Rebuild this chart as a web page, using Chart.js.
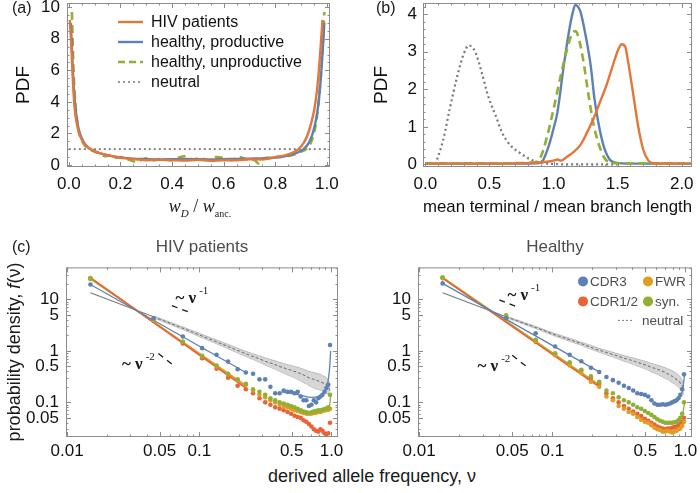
<!DOCTYPE html>
<html>
<head>
<meta charset="utf-8">
<script src="https://cdn.jsdelivr.net/npm/chart.js@4.4.1/dist/chart.umd.min.js"></script>
<style>
  body { margin: 0; background: #fff; width: 700px; height: 493px; position: relative; overflow: hidden;
         font-family: "Liberation Sans", Arial, sans-serif; }
  canvas { position: absolute; }
  .txt { position: absolute; white-space: nowrap; color: #1a1a1a; line-height: 1; }
  .serif { font-family: "Liberation Serif", "Times New Roman", serif; }
</style>
</head>
<body>
<canvas id="chartA" width="340" height="222" style="left:0;top:0"></canvas>
<canvas id="chartB" width="350" height="222" style="left:350px;top:0"></canvas>
<canvas id="chartHiv" width="350" height="235" style="left:0;top:225px"></canvas>
<canvas id="chartHealthy" width="350" height="235" style="left:350px;top:225px"></canvas>

<div class="txt" style="left:12px;top:0px;font-size:16px">(a)</div>
<div class="txt" style="left:376px;top:0px;font-size:16px">(b)</div>
<div class="txt" style="left:12px;top:239px;font-size:16px">(c)</div>
<div class="txt serif" style="left:200px;top:208px;font-size:18px;transform:translate(-50%,-50%)"><i>w</i><sub style="font-size:11px"><i>D</i></sub> / <i>w</i><sub style="font-size:10px">anc.</sub></div>
<div class="txt" style="left:14px;top:352px;font-size:18px;transform:translate(-50%,-50%) rotate(-90deg)">probability density, <i>f</i>(ν)</div>
<div class="txt" style="left:372px;top:476px;font-size:18px;transform:translate(-50%,-50%)">derived allele frequency, ν</div>

<script>
// ---------- panel (a): w_D / w_anc. ----------
const aLegend = ['HIV patients', 'healthy, productive', 'healthy, unproductive', 'neutral'];
const aTicksX = [0, 0.2, 0.4, 0.6, 0.8, 1.0];
const aTicksY = [0, 2, 4, 6, 8, 10];

const aHivX = [0.004, 0.01, 0.016, 0.022, 0.03, 0.04, 0.052, 0.065, 0.08, 0.1, 0.12, 0.15, 0.18, 0.22, 0.26, 0.3, 0.35, 0.4, 0.45, 0.5, 0.55, 0.6, 0.65, 0.7, 0.75, 0.8, 0.84, 0.87, 0.89, 0.91, 0.925, 0.94, 0.952, 0.962, 0.97, 0.977, 0.983];
const aHivY = [9.2, 7.4, 5.3, 3.7, 2.7, 2.0, 1.55, 1.25, 1.05, 0.88, 0.75, 0.62, 0.52, 0.42, 0.36, 0.3, 0.32, 0.3, 0.28, 0.32, 0.27, 0.3, 0.3, 0.36, 0.35, 0.5, 0.62, 0.8, 1.0, 1.4, 1.9, 2.7, 3.6, 4.8, 6.2, 7.8, 9.2];

const aProdX = [0.008, 0.013, 0.019, 0.026, 0.034, 0.045, 0.058, 0.072, 0.09, 0.11, 0.13, 0.16, 0.2, 0.25, 0.3, 0.35, 0.4, 0.45, 0.5, 0.55, 0.6, 0.65, 0.7, 0.75, 0.8, 0.85, 0.88, 0.91, 0.93, 0.945, 0.958, 0.968, 0.977, 0.984, 0.99];
const aProdY = [9.0, 7.0, 5.0, 3.6, 2.6, 1.9, 1.45, 1.15, 0.95, 0.8, 0.7, 0.58, 0.48, 0.4, 0.37, 0.35, 0.36, 0.38, 0.36, 0.35, 0.37, 0.38, 0.4, 0.42, 0.47, 0.6, 0.75, 1.0, 1.4, 2.0, 2.9, 4.0, 5.6, 7.3, 9.0];

const aUnprodX = [0.012, 0.016, 0.02, 0.026, 0.033, 0.042, 0.055, 0.07, 0.085, 0.1, 0.12, 0.14, 0.16, 0.18, 0.2, 0.23, 0.26, 0.28, 0.3, 0.33, 0.36, 0.39, 0.42, 0.45, 0.48, 0.51, 0.54, 0.57, 0.6, 0.63, 0.66, 0.69, 0.72, 0.735, 0.75, 0.78, 0.81, 0.84, 0.87, 0.9, 0.92, 0.94, 0.955, 0.967, 0.977, 0.985, 0.99];
const aUnprodY = [9.7, 7.2, 5.3, 3.8, 2.7, 1.9, 1.4, 1.1, 0.95, 0.85, 0.7, 0.55, 0.62, 0.45, 0.5, 0.35, 0.2, 0.3, 0.42, 0.3, 0.38, 0.3, 0.45, 0.55, 0.35, 0.42, 0.3, 0.5, 0.45, 0.3, 0.5, 0.35, 0.3, 0.1, 0.4, 0.45, 0.5, 0.55, 0.65, 0.85, 1.0, 1.5, 2.4, 3.8, 5.8, 8.0, 9.7];

const aNeutralX = [0, 1];
const aNeutralY = [1, 1];

// ---------- panel (b): mean terminal / mean branch length ----------
const bTicksX = [0, 0.5, 1, 1.5, 2];
const bTicksY = [0, 1, 2, 3, 4];

const bHivX = [0, 0.6, 0.84, 0.95, 1.0, 1.03, 1.06, 1.1, 1.16, 1.21, 1.26, 1.31, 1.36, 1.42, 1.47, 1.51, 1.53, 1.56, 1.58, 1.62, 1.66, 1.7, 1.74, 1.78, 2.08];
const bHivY = [0.02, 0.02, 0.04, 0.07, 0.1, 0.13, 0.1, 0.19, 0.34, 0.52, 0.84, 1.2, 1.64, 2.18, 2.72, 3.1, 3.2, 3.13, 2.77, 1.91, 1.02, 0.39, 0.1, 0.03, 0.02];

const bProdX = [0, 0.6, 0.87, 0.92, 0.97, 1.0, 1.03, 1.08, 1.12, 1.15, 1.17, 1.19, 1.21, 1.25, 1.29, 1.32, 1.36, 1.4, 1.44, 1.49, 1.6, 2.08];
const bProdY = [0.02, 0.02, 0.03, 0.12, 0.57, 0.95, 1.38, 2.63, 3.53, 4.05, 4.25, 4.2, 4.07, 3.44, 2.63, 1.73, 0.93, 0.39, 0.12, 0.04, 0.02, 0.02];

const bUnprodX = [0, 0.6, 0.83, 0.9, 0.95, 1.0, 1.05, 1.1, 1.14, 1.17, 1.19, 1.23, 1.27, 1.31, 1.35, 1.39, 1.44, 1.55, 2.08];
const bUnprodY = [0.03, 0.03, 0.05, 0.2, 0.75, 1.47, 2.27, 2.99, 3.45, 3.55, 3.44, 2.81, 1.91, 1.1, 0.57, 0.21, 0.05, 0.03, 0.03];

const bNeutralX = [0.08, 0.14, 0.19, 0.25, 0.3, 0.34, 0.39, 0.44, 0.49, 0.55, 0.6, 0.66, 0.74, 0.82, 0.9, 1.0, 1.1, 1.5];
const bNeutralY = [0, 0.66, 1.47, 2.36, 2.95, 3.17, 2.99, 2.45, 1.82, 1.29, 0.84, 0.52, 0.3, 0.13, 0.05, 0.01, 0, 0];

// ---------- panel (c): site frequency spectra ----------
const cLegend = ['CDR3', 'FWR', 'CDR1/2', 'syn.', 'neutral'];
const cTicksX = [0.01, 0.05, 0.1, 0.5, 1];
const cTickLabelsX = ['0.01', '0.05', '0.1', '0.5', '1.0'];
const cTicksY = [0.05, 0.1, 0.5, 1, 5, 10];
const cTickLabelsY = ['0.05', '0.1', '0.5', '1', '5', '10'];

const freqBins = [0.015, 0.045, 0.075, 0.105, 0.135, 0.165, 0.195, 0.225, 0.255, 0.285, 0.315, 0.345, 0.375, 0.405, 0.435, 0.465, 0.495, 0.525, 0.555, 0.585, 0.615, 0.645, 0.675, 0.705, 0.735, 0.765, 0.795, 0.825, 0.855, 0.885, 0.915, 0.945, 0.975];
const fitRange = [0.015, 0.225];

// HIV patients
const hivCdr3 = [19.5, 4.3, 1.9, 1.13, 0.84, 0.62, 0.44, 0.38, 0.36, 0.28, 0.28, 0.2, 0.15, 0.15, 0.17, 0.16, 0.16, 0.15, 0.16, 0.13, 0.11, 0.11, 0.085, 0.09, 0.11, 0.1, 0.12, 0.13, 0.14, 0.16, 0.19, 0.22, 1.3];
const hivFwr = [26, 4.0, 1.5, 0.78, 0.5, 0.35, 0.27, 0.22, 0.17, 0.14, 0.125, 0.11, 0.1, 0.09, 0.085, 0.08, 0.075, 0.07, 0.068, 0.065, 0.062, 0.06, 0.06, 0.06, 0.062, 0.063, 0.065, 0.065, 0.068, 0.07, 0.07, 0.072, 0.075];
const hivCdr12 = [26, 3.9, 1.4, 0.72, 0.45, 0.3, 0.21, 0.18, 0.15, 0.12, 0.1, 0.09, 0.08, 0.075, 0.07, 0.065, 0.06, 0.055, 0.052, 0.05, 0.045, 0.042, 0.038, 0.034, 0.03, 0.028, 0.027, 0.03, 0.028, 0.025, 0.024, 0.025, 0.04];
const hivSyn = [25, 4.1, 1.5, 0.8, 0.52, 0.36, 0.28, 0.23, 0.18, 0.16, 0.14, 0.12, 0.11, 0.1, 0.095, 0.09, 0.085, 0.08, 0.075, 0.07, 0.066, 0.064, 0.062, 0.064, 0.066, 0.068, 0.07, 0.07, 0.072, 0.074, 0.076, 0.08, 0.14];
const hivNeutral = [13.5, 4.6, 2.75, 1.95, 1.5, 1.22, 1.02, 0.88, 0.78, 0.7, 0.63, 0.58, 0.54, 0.5, 0.47, 0.44, 0.42, 0.4, 0.38, 0.36, 0.34, 0.32, 0.3, 0.29, 0.28, 0.27, 0.26, 0.25, 0.24, 0.23, 0.22, 0.2, 0.17];
const hivNeutralHi = [13.5, 4.8, 2.92, 2.1, 1.63, 1.34, 1.13, 0.98, 0.88, 0.8, 0.73, 0.68, 0.64, 0.6, 0.57, 0.54, 0.52, 0.5, 0.48, 0.46, 0.44, 0.42, 0.4, 0.39, 0.38, 0.37, 0.36, 0.35, 0.33, 0.32, 0.3, 0.27, 0.22];
const hivNeutralLo = [13.5, 4.4, 2.6, 1.8, 1.38, 1.1, 0.91, 0.78, 0.68, 0.6, 0.53, 0.48, 0.44, 0.4, 0.37, 0.34, 0.32, 0.3, 0.28, 0.26, 0.24, 0.23, 0.21, 0.2, 0.19, 0.18, 0.18, 0.17, 0.17, 0.16, 0.15, 0.14, 0.13];
const hivFitCdr3 = [19.5, 0.38];
const hivFitFwr = [26, 0.21];
const hivFitCdr12 = [26.5, 0.19];
const hivFitSyn = [25, 0.21];
const hivTailCdr3X = [0.42, 0.5, 0.6, 0.7, 0.8, 0.87, 0.92, 0.95, 0.97, 0.985];
const hivTailCdr3Y = [0.16, 0.15, 0.135, 0.125, 0.13, 0.155, 0.2, 0.3, 0.5, 1.0];
const hivTailSynX = [0.6, 0.7, 0.8, 0.9, 0.95, 0.975, 0.985];
const hivTailSynY = [0.062, 0.063, 0.067, 0.072, 0.078, 0.1, 0.14];
const hivTailFwrX = [0.6, 0.7, 0.8, 0.9, 0.95, 0.985];
const hivTailFwrY = [0.06, 0.06, 0.064, 0.068, 0.072, 0.076];

// healthy donors
const hlCdr3 = [20.5, 4.3, 2.2, 1.22, 0.84, 0.63, 0.47, 0.39, 0.31, 0.27, 0.24, 0.21, 0.19, 0.17, 0.15, 0.145, 0.14, 0.13, 0.11, 0.095, 0.09, 0.09, 0.092, 0.09, 0.092, 0.095, 0.1, 0.105, 0.11, 0.12, 0.14, 0.18, 0.35];
const hlFwr = [26, 4.2, 1.55, 0.82, 0.52, 0.37, 0.25, 0.2, 0.13, 0.11, 0.085, 0.075, 0.065, 0.06, 0.052, 0.046, 0.042, 0.04, 0.036, 0.032, 0.03, 0.029, 0.027, 0.027, 0.028, 0.027, 0.026, 0.027, 0.028, 0.03, 0.031, 0.035, 0.042];
const hlCdr12 = [26, 4.2, 1.5, 0.85, 0.58, 0.42, 0.3, 0.23, 0.15, 0.12, 0.1, 0.085, 0.075, 0.066, 0.06, 0.054, 0.048, 0.044, 0.04, 0.037, 0.034, 0.032, 0.031, 0.03, 0.031, 0.031, 0.032, 0.033, 0.034, 0.036, 0.038, 0.042, 0.05];
const hlSyn = [27, 4.9, 1.65, 0.9, 0.6, 0.43, 0.32, 0.25, 0.17, 0.15, 0.125, 0.11, 0.1, 0.09, 0.08, 0.075, 0.068, 0.062, 0.057, 0.052, 0.047, 0.044, 0.042, 0.04, 0.04, 0.04, 0.04, 0.041, 0.042, 0.045, 0.05, 0.06, 0.1];
const hlNeutral = [13.5, 4.6, 2.85, 2.05, 1.65, 1.38, 1.18, 1.03, 0.93, 0.85, 0.78, 0.72, 0.68, 0.64, 0.6, 0.57, 0.54, 0.51, 0.48, 0.46, 0.44, 0.42, 0.4, 0.38, 0.36, 0.34, 0.32, 0.3, 0.28, 0.26, 0.24, 0.21, 0.17];
const hlNeutralHi = [13.5, 4.75, 2.98, 2.17, 1.76, 1.48, 1.28, 1.12, 1.02, 0.94, 0.87, 0.81, 0.77, 0.73, 0.69, 0.66, 0.63, 0.6, 0.57, 0.55, 0.53, 0.51, 0.49, 0.47, 0.45, 0.43, 0.41, 0.39, 0.37, 0.34, 0.31, 0.27, 0.21];
const hlNeutralLo = [13.5, 4.45, 2.72, 1.93, 1.54, 1.28, 1.08, 0.94, 0.84, 0.76, 0.69, 0.63, 0.59, 0.55, 0.51, 0.48, 0.45, 0.42, 0.39, 0.37, 0.35, 0.33, 0.31, 0.29, 0.28, 0.26, 0.24, 0.23, 0.21, 0.2, 0.18, 0.16, 0.14];
const hlFitCdr3 = [20.5, 0.39];
const hlFitFwr = [26, 0.21];
const hlFitCdr12 = [26, 0.2];
const hlFitSyn = [27, 0.22];
const hlTailCdr3X = [0.6, 0.7, 0.8, 0.88, 0.93, 0.96, 0.985];
const hlTailCdr3Y = [0.09, 0.088, 0.095, 0.11, 0.14, 0.2, 0.35];
const hlTailSynX = [0.65, 0.75, 0.85, 0.92, 0.96, 0.985];
const hlTailSynY = [0.042, 0.04, 0.042, 0.05, 0.065, 0.1];
const hlTailFwrX = [0.65, 0.75, 0.85, 0.92, 0.96, 0.985];
const hlTailFwrY = [0.027, 0.027, 0.028, 0.031, 0.036, 0.042];

// slope guides (~nu^-1, ~nu^-2): x pairs and y pairs
const hivGuide1X = [0.062, 0.086], hivGuide1Y = [7.6, 5.5];
const hivGuide2X = [0.049, 0.066], hivGuide2Y = [0.89, 0.49];
const hlGuide1X = [0.04, 0.055], hlGuide1Y = [9.8, 7.1];
const hlGuide2X = [0.05, 0.065], hlGuide2Y = [0.82, 0.48];

// ---------- styling ----------
const BLUE = '#5e81b5', ORANGE = '#e19c24', RED = '#eb6235', GREEN = '#8fb032';
const HIVLINE = '#e4763a';
const FAMILY = '"Liberation Sans", Arial, sans-serif';
const TICKFONT = { family: FAMILY, size: 17 };
const TICKCOLOR = '#111';

const pts = (xs, ys) => xs.map((x, i) => ({ x: x, y: ys[i] }));

function range(a, b, step) {
  const out = [];
  for (let v = a; v <= b + 1e-9; v += step) out.push(+v.toFixed(4));
  return out;
}
function logMinors(lo, hi) {
  const out = [];
  for (let d = lo; d < hi; d *= 10) for (let k = 2; k <= 9; k++) out.push(+(d * k).toPrecision(3));
  return out;
}
// keep the plot box exactly where the layout puts it
function fixBox(size, key) {
  return s => {
    s[key] = size;
    s.paddingTop = 0; s.paddingBottom = 0; s.paddingLeft = 0; s.paddingRight = 0;
  };
}

// frame with inward ticks on all four sides
const framePlugin = {
  id: 'frame',
  afterDatasetsDraw(chart, args, o) {
    const { ctx, chartArea: a, scales: { x, y } } = chart;
    ctx.save();
    ctx.strokeStyle = '#8c8c8c';
    ctx.lineWidth = 1;
    ctx.strokeRect(a.left + 0.5, a.top + 0.5, a.right - a.left - 1, a.bottom - a.top - 1);
    ctx.beginPath();
    const xt = (vals, len) => vals.forEach(v => {
      const p = Math.round(x.getPixelForValue(v)) + 0.5;
      if (p < a.left + 1 || p > a.right - 1) return;
      ctx.moveTo(p, a.bottom); ctx.lineTo(p, a.bottom - len);
      ctx.moveTo(p, a.top); ctx.lineTo(p, a.top + len);
    });
    const yt = (vals, len) => vals.forEach(v => {
      const p = Math.round(y.getPixelForValue(v)) + 0.5;
      if (p < a.top + 1 || p > a.bottom - 1) return;
      ctx.moveTo(a.left, p); ctx.lineTo(a.left + len, p);
      ctx.moveTo(a.right, p); ctx.lineTo(a.right - len, p);
    });
    xt(o.xMajor, 5); xt(o.xMinor, 2.5);
    yt(o.yMajor, 5); yt(o.yMinor, 2.5);
    ctx.stroke();
    ctx.restore();
  }
};

// legend drawn inside the plot area
const keyPlugin = {
  id: 'key',
  afterDraw(chart, args, o) {
    if (!o.items) return;
    const { ctx, chartArea: a } = chart;
    ctx.save();
    ctx.font = o.font;
    ctx.textBaseline = 'middle';
    o.items.forEach(it => {
      const x0 = a.left + it.dx, yy = a.top + it.dy;
      ctx.strokeStyle = it.color; ctx.fillStyle = it.color;
      if (it.kind === 'marker') {
        ctx.beginPath(); ctx.arc(x0, yy, 5, 0, Math.PI * 2); ctx.fill();
      } else {
        ctx.lineWidth = it.width || 2.4;
        ctx.setLineDash(it.dash || []);
        ctx.beginPath(); ctx.moveTo(x0, yy); ctx.lineTo(x0 + it.len, yy); ctx.stroke();
        ctx.setLineDash([]);
      }
      ctx.fillStyle = o.color;
      ctx.fillText(it.text, a.left + it.tx, yy + 1);
    });
    ctx.restore();
  }
};

// "~ nu^k" annotations placed in data coordinates
const powerPlugin = {
  id: 'power',
  afterDatasetsDraw(chart, args, o) {
    if (!o.items) return;
    const { ctx, scales: { x, y } } = chart;
    ctx.save();
    ctx.fillStyle = '#1a1a1a';
    ctx.textBaseline = 'middle';
    o.items.forEach(it => {
      const px = x.getPixelForValue(it.x), py = y.getPixelForValue(it.y);
      ctx.font = 'bold 17px "Liberation Serif", serif';
      const base = '~ ν';
      ctx.fillText(base, px, py);
      const w = ctx.measureText(base).width;
      ctx.font = '11px "Liberation Serif", serif';
      ctx.fillText(it.exp, px + w + 3, py - 7);
    });
    ctx.restore();
  }
};

function linAxis(min, max, ticks, fmt, pad, extra) {
  return Object.assign({
    type: 'linear', min: min, max: max,
    afterBuildTicks: s => { s.ticks = ticks.map(v => ({ value: v })); },
    ticks: { callback: fmt, font: TICKFONT, color: TICKCOLOR, autoSkip: false, maxRotation: 0, padding: pad },
    grid: { display: false, drawTicks: false },
    border: { display: false }
  }, extra);
}
function logAxis(min, max, ticks, labels, pad, extra) {
  return Object.assign({
    type: 'logarithmic', min: min, max: max,
    afterBuildTicks: s => { s.ticks = ticks.map(v => ({ value: v })); },
    ticks: { callback: v => labels[ticks.indexOf(v)], font: TICKFONT, color: TICKCOLOR, autoSkip: false, maxRotation: 0, padding: pad },
    grid: { display: false, drawTicks: false },
    border: { display: false }
  }, extra);
}

const lineDs = (data, color, width, dash) => ({
  data: data, showLine: true, borderColor: color, borderWidth: width, borderDash: dash || [],
  pointRadius: 0, fill: false, cubicInterpolationMode: 'monotone'
});

const baseOptions = {
  responsive: false, animation: false, events: [],
  plugins: { legend: { display: false }, tooltip: { enabled: false } }
};

// ---------- chart (a) ----------
new Chart(document.getElementById('chartA'), {
  type: 'scatter',
  data: { datasets: [
    lineDs(pts(aHivX, aHivY), HIVLINE, 2.4),
    lineDs(pts(aProdX, aProdY), BLUE, 2.4),
    lineDs(pts(aUnprodX, aUnprodY), GREEN, 2.6, [8, 5]),
    lineDs(pts(aNeutralX, aNeutralY), '#777', 1.8, [2, 3])
  ] },
  options: Object.assign({}, baseOptions, {
    layout: { padding: { left: 0, top: 3, right: 10, bottom: 0 } },
    scales: {
      x: linAxis(-0.007, 1.012, aTicksX, v => v.toFixed(1), 7, { afterFit: fixBox(55, 'height') }),
      y: linAxis(-0.13, 10.27, aTicksY, v => String(v), 7, {
        afterFit: fixBox(67, 'width'),
        title: { display: true, text: 'PDF', font: { family: FAMILY, size: 19 }, color: TICKCOLOR, padding: { top: 12 } }
      })
    },
    plugins: Object.assign({}, baseOptions.plugins, {
      frame: { xMajor: aTicksX, xMinor: range(0, 1, 0.05), yMajor: aTicksY, yMinor: range(0, 10, 0.5) },
      key: {
        font: '16px ' + FAMILY, color: '#111',
        items: [
          { text: aLegend[0], color: HIVLINE, dx: 51, len: 25, tx: 84, dy: 19 },
          { text: aLegend[1], color: BLUE, dx: 51, len: 25, tx: 84, dy: 39 },
          { text: aLegend[2], color: GREEN, dash: [7, 4], dx: 51, len: 25, tx: 84, dy: 59 },
          { text: aLegend[3], color: '#777', dash: [2, 3], width: 1.6, dx: 51, len: 25, tx: 84, dy: 79 }
        ]
      }
    })
  }),
  plugins: [framePlugin, keyPlugin]
});

// ---------- chart (b) ----------
new Chart(document.getElementById('chartB'), {
  type: 'scatter',
  data: { datasets: [
    lineDs(pts(bHivX, bHivY), HIVLINE, 2.4),
    lineDs(pts(bUnprodX, bUnprodY), GREEN, 2.6, [8, 5]),
    lineDs(pts(bProdX, bProdY), BLUE, 2.4),
    lineDs(pts(bNeutralX, bNeutralY), '#777', 2.2, [2, 3])
  ] },
  options: Object.assign({}, baseOptions, {
    layout: { padding: { left: 0, top: 3, right: 8, bottom: 0 } },
    scales: {
      x: linAxis(-0.018, 2.08, bTicksX, v => v.toFixed(1), 7, {
        afterFit: fixBox(55, 'height'),
        title: { display: true, text: 'mean terminal / mean branch length', font: { family: FAMILY, size: 17 }, color: TICKCOLOR, padding: { bottom: 4 } }
      }),
      y: linAxis(-0.07, 4.3, bTicksY, v => String(v), 6, {
        afterFit: fixBox(73, 'width'),
        title: { display: true, text: 'PDF', font: { family: FAMILY, size: 19 }, color: TICKCOLOR, padding: { top: 20 } }
      })
    },
    plugins: Object.assign({}, baseOptions.plugins, {
      frame: { xMajor: bTicksX, xMinor: range(0, 2, 0.1), yMajor: bTicksY, yMinor: range(0, 4.2, 0.2) }
    })
  }),
  plugins: [framePlugin]
});

// ---------- charts (c) ----------
function sfsChart(id, title, s, yWidth, padRight, key) {
  const fitLine = (vals, color, width) => ({
    data: pts(fitRange, vals), showLine: true, borderColor: color, borderWidth: width,
    pointRadius: 0, fill: false
  });
  const dots = (vals, color) => ({
    data: pts(freqBins, vals), showLine: false, pointRadius: 2.3,
    pointBackgroundColor: color, pointBorderWidth: 0
  });
  const guide = (xs, ys) => ({
    data: pts(xs, ys), showLine: true, borderColor: '#1a1a1a', borderWidth: 1.3, borderDash: [6, 5],
    pointRadius: 0, fill: false
  });
  const datasets = [
    // first = drawn on top
    dots(s.cdr3, BLUE),
    dots(s.syn, GREEN),
    dots(s.fwr, ORANGE),
    dots(s.cdr12, RED),
    fitLine(s.fitCdr3, BLUE, 1.3),
    fitLine(s.fitCdr12, RED, 1.6),
    fitLine(s.fitFwr, ORANGE, 1.6),
    fitLine(s.fitSyn, GREEN, 1.4),
    lineDs(pts(s.tailCdr3X, s.tailCdr3Y), BLUE, 1.3),
    lineDs(pts(s.tailSynX, s.tailSynY), GREEN, 1.3),
    lineDs(pts(s.tailFwrX, s.tailFwrY), ORANGE, 1.3),
    guide(s.g1x, s.g1y),
    guide(s.g2x, s.g2y),
    {
      data: pts(freqBins, s.neutral), showLine: true, borderColor: '#7a7a7a', borderWidth: 1.1,
      pointRadius: 0, fill: false,
      segment: { borderDash: c => c.p0DataIndex >= 1 ? [3, 2] : undefined }
    },
    {
      data: pts(freqBins.slice(1), s.neutralHi.slice(1)), showLine: true, borderColor: '#b0b0b0', borderWidth: 0.8,
      pointRadius: 0, fill: '+1', backgroundColor: 'rgba(200,200,200,0.75)'
    },
    {
      data: pts(freqBins.slice(1), s.neutralLo.slice(1)), showLine: true, borderColor: '#b0b0b0', borderWidth: 0.8,
      pointRadius: 0, fill: false
    }
  ];
  return new Chart(document.getElementById(id), {
    type: 'scatter',
    data: { datasets: datasets },
    options: Object.assign({}, baseOptions, {
      layout: { padding: { left: 0, top: 0, right: padRight, bottom: 0 } },
      scales: {
        x: logAxis(0.0098, 1.12, cTicksX, cTickLabelsX, 4, { afterFit: fixBox(23, 'height') }),
        y: logAxis(0.0212, 42, cTicksY, cTickLabelsY, 7, { afterFit: fixBox(yWidth, 'width') })
      },
      plugins: Object.assign({}, baseOptions.plugins, {
        title: { display: true, text: title, fullSize: false, color: '#4d4d4d',
                 font: { family: FAMILY, size: 17, weight: 'normal' }, padding: { top: 12, bottom: 10 } },
        frame: { xMajor: cTicksX, xMinor: logMinors(0.01, 1), yMajor: cTicksY.concat([0.01]), yMinor: logMinors(0.01, 100) },
        power: { items: s.power },
        key: key
      })
    }),
    plugins: [framePlugin, powerPlugin, keyPlugin]
  });
}

sfsChart('chartHiv', 'HIV patients', {
  cdr3: hivCdr3, fwr: hivFwr, cdr12: hivCdr12, syn: hivSyn,
  neutral: hivNeutral, neutralHi: hivNeutralHi, neutralLo: hivNeutralLo,
  fitCdr3: hivFitCdr3, fitFwr: hivFitFwr, fitCdr12: hivFitCdr12, fitSyn: hivFitSyn,
  tailCdr3X: hivTailCdr3X, tailCdr3Y: hivTailCdr3Y, tailSynX: hivTailSynX, tailSynY: hivTailSynY,
  tailFwrX: hivTailFwrX, tailFwrY: hivTailFwrY,
  g1x: hivGuide1X, g1y: hivGuide1Y, g2x: hivGuide2X, g2y: hivGuide2Y,
  power: [{ x: 0.066, y: 10.4, exp: '-1' }, { x: 0.026, y: 0.55, exp: '-2' }]
}, 66, 12, {});

sfsChart('chartHealthy', 'Healthy', {
  cdr3: hlCdr3, fwr: hlFwr, cdr12: hlCdr12, syn: hlSyn,
  neutral: hlNeutral, neutralHi: hlNeutralHi, neutralLo: hlNeutralLo,
  fitCdr3: hlFitCdr3, fitFwr: hlFitFwr, fitCdr12: hlFitCdr12, fitSyn: hlFitSyn,
  tailCdr3X: hlTailCdr3X, tailCdr3Y: hlTailCdr3Y, tailSynX: hlTailSynX, tailSynY: hlTailSynY,
  tailFwrX: hlTailFwrX, tailFwrY: hlTailFwrY,
  g1x: hlGuide1X, g1y: hlGuide1Y, g2x: hlGuide2X, g2y: hlGuide2Y,
  power: [{ x: 0.046, y: 12, exp: '-1' }, { x: 0.0274, y: 0.5, exp: '-2' }]
}, 68, 8, {
  font: '13.5px ' + FAMILY, color: '#4d4d4d',
  items: [
    { text: cLegend[0], color: BLUE, kind: 'marker', dx: 165, tx: 172, dy: 14 },
    { text: cLegend[1], color: ORANGE, kind: 'marker', dx: 230, tx: 237, dy: 14 },
    { text: cLegend[2], color: RED, kind: 'marker', dx: 165, tx: 172, dy: 34 },
    { text: cLegend[3], color: GREEN, kind: 'marker', dx: 230, tx: 237, dy: 34 },
    { text: cLegend[4], color: '#777', dash: [2, 2], width: 1, dx: 200, len: 15, tx: 224, dy: 53 }
  ]
});
</script>
</body>
</html>
